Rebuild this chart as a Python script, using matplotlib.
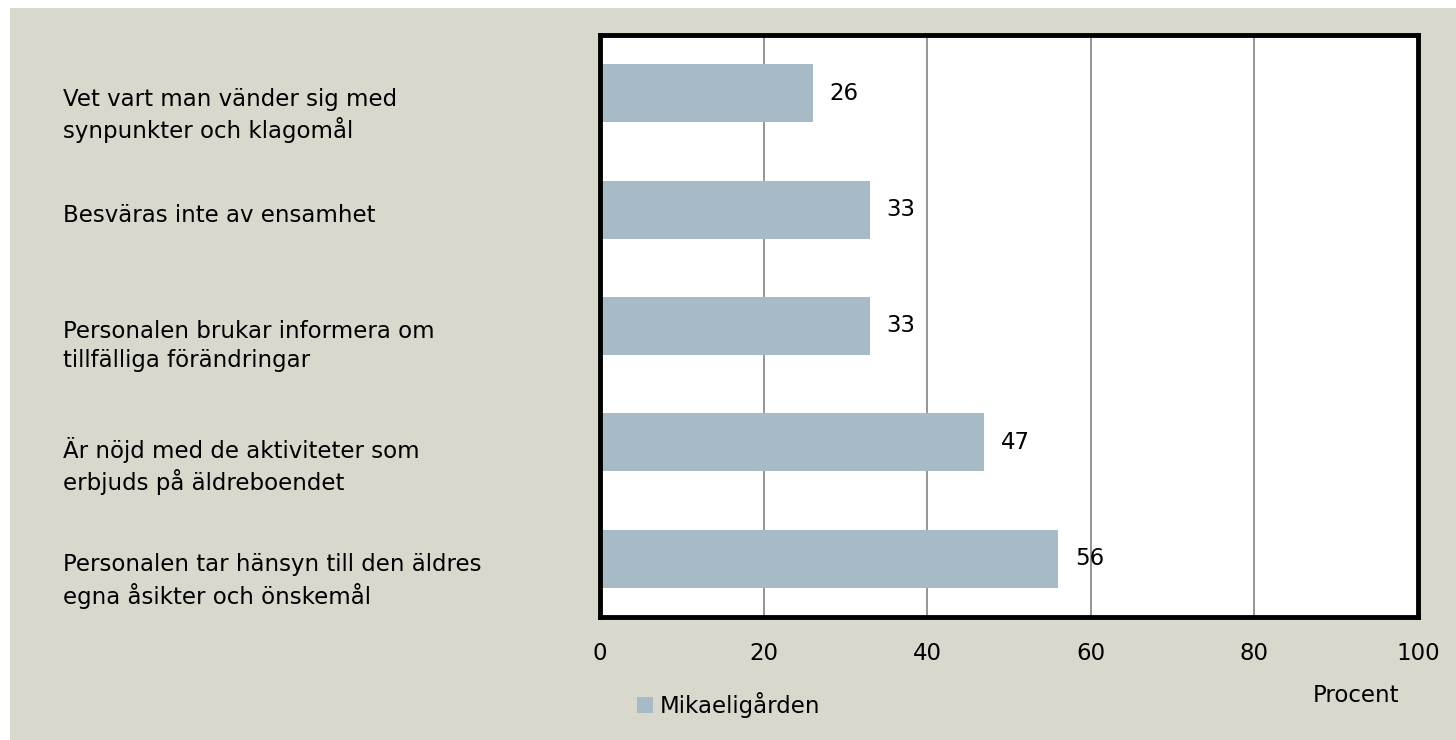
import matplotlib
matplotlib.use("Agg")
import matplotlib.pyplot as plt
from matplotlib.patches import Rectangle

# data
categories = [
    "Vet vart man vänder sig med\nsynpunkter och klagomål",
    "Besväras inte av ensamhet",
    "Personalen brukar informera om\ntillfälliga förändringar",
    "Är nöjd med de aktiviteter som\nerbjuds på äldreboendet",
    "Personalen tar hänsyn till den äldres\negna åsikter och önskemål",
]
values = [26, 33, 33, 47, 56]
series_name = "Mikaeligården"
xticks = [0, 20, 40, 60, 80, 100]

bg = "#D9D8CC"
bar_col = "#A7BBC6"
plt.rcParams["font.family"] = ["DejaVu Sans"]
fs = 16.5

fig = plt.figure(figsize=(14.56, 7.40), dpi=100, facecolor="white")
# beige panel, thin white margin at top and left
fig.patches.append(Rectangle((10 / 1456, 0), 1, 1 - 8 / 740, transform=fig.transFigure,
                             facecolor=bg, edgecolor="none", zorder=-10))

ax = fig.add_axes([600 / 1456, 1 - 617 / 740, 818 / 1456, 582 / 740])
ax.set_facecolor("white")

ypos = list(range(len(values)))
bars = ax.barh(ypos, values, height=0.5, color=bar_col, zorder=2, label=series_name)
ax.set_xlim(0, 100)
ax.set_ylim(len(values) - 0.5, -0.5)
ax.set_xticks(xticks)
ax.set_xticklabels([str(t) for t in xticks], fontsize=fs)
ax.set_yticks([])
ax.tick_params(axis="x", length=0, pad=18)
ax.grid(axis="x", color="#8C8C8C", linewidth=1.3, zorder=1)
for s in ax.spines.values():
    s.set_linewidth(3.5)
    s.set_color("black")

for y, v in zip(ypos, values):
    ax.annotate(str(v), xy=(v, y), xytext=(12, 0), textcoords="offset points",
                ha="left", va="center", fontsize=fs)

# category labels at the left
for y, c in zip(ypos, categories):
    ax.annotate(c, xy=(63 / 1456, y), xycoords=("figure fraction", "data"),
                xytext=(0, 4), textcoords="offset points",
                ha="left", va="top", fontsize=fs, linespacing=1.3,
                annotation_clip=False)

fig.text(1356 / 1456, 1 - 695 / 740, "Procent", ha="center", va="center", fontsize=fs)

ax.legend(handles=[bars], loc="center left", bbox_to_anchor=(616 / 1456, 1 - 705 / 740),
          bbox_transform=fig.transFigure, frameon=False, fontsize=fs,
          handlelength=0.7, handleheight=0.7, handletextpad=0.3)

fig.savefig("out.png", dpi=100, facecolor="white")
